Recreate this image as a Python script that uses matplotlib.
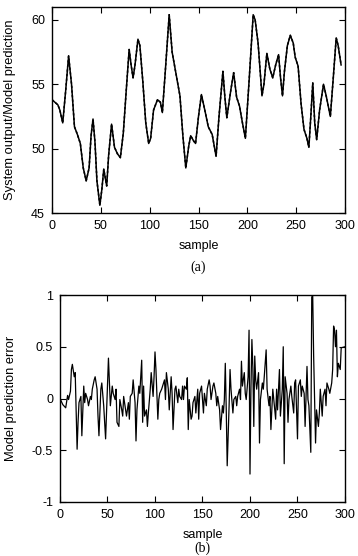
import matplotlib
matplotlib.use("Agg")
import matplotlib.pyplot as plt

plt.rcParams['font.family'] = ['Liberation Sans', 'DejaVu Sans']

# ---- panel (a): system output / model prediction ----
out_samples = [0, 3, 6, 8, 11, 14, 17, 20, 23, 26, 29, 32, 35, 38, 40, 42, 44, 46, 49,
               51, 53, 56, 58, 61, 64, 67, 70, 73, 76, 79, 81, 83, 85, 88, 90, 93, 96,
               99, 101, 104, 108, 111, 113, 116, 120, 123, 127, 131, 134, 137, 140, 142,
               145, 147, 150, 153, 157, 160, 164, 168, 171, 175, 177, 179, 183, 186, 189,
               192, 195, 198, 202, 206, 208, 211, 215, 217, 220, 223, 226, 229, 232, 234,
               236, 238, 241, 244, 247, 249, 252, 255, 258, 261, 263, 265, 267, 269, 271,
               274, 278, 281, 285, 288, 291, 293, 296]
out_values = [53.8, 53.6, 53.4, 53.0, 52.0, 54.5, 57.2, 55.0, 51.7, 51.1, 50.4, 48.5, 47.5,
              48.5, 51.0, 52.3, 50.5, 47.5, 45.6, 46.8, 48.4, 47.1, 49.5, 51.9, 50.1, 49.6,
              49.3, 51.2, 54.5, 57.7, 56.5, 55.5, 56.5, 58.5, 58.0, 55.2, 52.0, 50.4, 50.8,
              53.0, 53.8, 53.6, 52.8, 56.0, 60.4, 57.5, 55.8, 54.1, 51.0, 48.5, 50.2, 51.0,
              50.6, 50.4, 52.5, 54.2, 52.8, 51.7, 51.1, 49.4, 52.5, 56.0, 54.0, 52.4, 54.5,
              55.9, 54.0, 53.3, 52.0, 50.8, 55.5, 60.4, 60.0, 58.2, 54.1, 55.0, 57.4, 56.2,
              55.5, 56.5, 57.3, 55.5, 54.1, 56.0, 58.0, 58.8, 58.2, 57.1, 56.4, 53.5, 51.5,
              50.8, 50.1, 52.5, 55.1, 52.0, 50.7, 53.0, 55.0, 54.0, 52.5, 55.5, 58.6, 58.0,
              56.5]

# ---- panel (b): model prediction error ----
err_samples = [0, 3, 6, 8, 9, 11, 12, 13, 15, 16, 18, 19, 20, 22, 23, 25, 26, 27, 29, 30,
               32, 33, 34, 36, 37, 39, 40, 41, 43, 44, 46, 47, 48, 50, 51, 52, 53, 55, 56,
               58, 59, 60, 62, 63, 65, 66, 67, 69, 70, 72, 73, 74, 76, 77, 79, 80, 81, 83,
               84, 86, 87, 88, 89, 91, 92, 93, 95, 96, 98, 99, 100, 101, 103, 104, 105,
               107, 108, 110, 111, 112, 114, 115, 117, 118, 119, 121, 122, 124, 125, 126,
               128, 129, 130, 131, 133, 134, 135, 136, 138, 139, 140, 142, 143, 145, 146,
               147, 149, 151, 152, 154, 155, 157, 158, 159, 161, 162, 164, 165, 166, 168,
               169, 171, 172, 173, 174, 175, 176, 178, 179, 180, 182, 183, 185, 186, 187,
               189, 190, 191, 192, 194, 195, 196, 198, 199, 200, 201, 202, 203, 204, 205,
               206, 207, 209, 210, 211, 213, 214, 215, 217, 218, 220, 221, 222, 224, 225,
               227, 228, 229, 231, 232, 234, 235, 236, 237, 239, 240, 241, 243, 244, 246,
               247, 248, 250, 251, 253, 254, 255, 257, 258, 260, 261, 262, 264, 265, 266,
               267, 269, 270, 272, 273, 274, 276, 277, 279, 280, 281, 283, 284, 286, 287,
               288, 289, 290, 291, 292, 293, 295, 296, 300]
err_values = [0.0, -0.06, -0.09, 0.03, -0.01, 0.07, 0.28, 0.33, 0.21, 0.25, -0.49, -0.23,
              -0.04, 0.02, -0.36, 0.12, -0.04, 0.05, -0.01, -0.07, 0.02, -0.01, 0.09, 0.18,
              0.21, 0.09, -0.17, -0.36, 0.09, 0.15, -0.07, -0.23, -0.39, 0.15, 0.39, 0.15,
              -0.07, 0.12, 0.05, -0.01, 0.09, -0.23, -0.27, -0.01, -0.11, -0.17, 0.02, -0.11,
              -0.17, -0.04, -0.2, 0.02, 0.05, 0.18, -0.04, -0.41, -0.11, 0.12, 0.05, 0.37,
              -0.23, 0.12, -0.17, -0.11, -0.27, -0.14, 0.09, 0.25, 0.02, 0.21, 0.45, 0.28,
              -0.2, -0.01, 0.05, 0.09, 0.12, 0.18, -0.01, 0.25, 0.09, -0.11, 0.21, 0.05, -0.3,
              0.09, 0.12, -0.04, 0.09, 0.02, -0.01, 0.12, -0.01, 0.12, 0.09, 0.2, -0.3, -0.01,
              -0.2, -0.17, -0.04, 0.02, -0.14, 0.09, -0.2, 0.05, 0.12, -0.14, 0.05, -0.07,
              0.09, 0.18, 0.12, -0.01, 0.12, 0.15, 0.05, -0.07, 0.02, -0.11, -0.3, -0.07,
              -0.14, -0.01, 0.34, -0.11, -0.65, -0.07, 0.28, 0.09, -0.14, -0.01, 0.02, -0.07,
              0.02, 0.09, -0.01, 0.36, 0.12, 0.25, 0.05, -0.01, 0.21, 0.66, -0.73, 0.1, 0.57,
              0.3, -0.27, 0.41, 0.18, 0.09, 0.25, -0.43, -0.01, 0.15, 0.09, 0.21, 0.47, 0.09,
              -0.07, 0.02, -0.3, 0.09, -0.01, -0.2, 0.09, -0.11, 0.28, -0.17, 0.09, 0.5,
              -0.63, 0.21, 0.05, -0.23, -0.01, 0.12, 0.02, -0.14, 0.15, 0.18, -0.39, 0.12,
              0.18, 0.02, 0.12, 0.05, -0.27, 0.31, -0.01, -0.07, -0.52, 0.98, 1.0, 0.41,
              -0.43, -0.11, -0.27, -0.14, 0.09, -0.17, 0.02, 0.09, -0.07, 0.15, 0.09, 0.05,
              0.15, 0.28, 0.7, 0.66, 0.5, 0.66, 0.21, 0.34, 0.28, 0.49, 0.5]

x_ticks = [0, 50, 100, 150, 200, 250, 300]
ya_ticks = [45, 50, 55, 60]
yb_ticks = [-1, -0.5, 0, 0.5, 1]
yb_labels = ['-1', '-0.5', '0', '0.5', '1']

fig = plt.figure(figsize=(3.58, 5.56), dpi=100)
ax1 = fig.add_axes([52/358, 1-213/556, (345-52)/358, (213-7)/556])
ax2 = fig.add_axes([60/358, 1-502/556, (345-60)/358, (502-295)/556])

ax1.plot(out_samples, out_values, color='black', lw=1.1, solid_joinstyle='round')
ax1.plot(out_samples, out_values, color='black', lw=1.1, ls=(0, (1.5, 1.5)))
ax1.set_xlim(0, 300)
ax1.set_ylim(45, 61)
ax1.set_xticks(x_ticks)
ax1.set_yticks(ya_ticks)

ax2.plot(err_samples, err_values, color='black', lw=0.9)
ax2.set_xlim(0, 300)
ax2.set_ylim(-1, 1)
ax2.set_xticks(x_ticks)
ax2.set_yticks(yb_ticks)
ax2.set_yticklabels(yb_labels)

for ax in (ax1, ax2):
    ax.tick_params(direction='in', length=4, width=0.8, top=True, right=True,
                   labelsize=9, pad=5, colors='black')
    for s in ax.spines.values():
        s.set_linewidth(1.0)
    ax.set_xlabel('sample', fontsize=9, labelpad=6)

ax1.set_ylabel('System output/Model prediction', fontsize=9.3, labelpad=11)
ax2.set_ylabel('Model prediction error', fontsize=9.3, labelpad=11)

fig.text((52+345)/2/358, 1-267/556, '(a)', ha='center', va='center', fontsize=10,
         family='Liberation Serif')
fig.text((60+345)/2/358, 1-548/556, '(b)', ha='center', va='center', fontsize=10,
         family='Liberation Serif')

fig.savefig('out.png', dpi=100, facecolor='white')
